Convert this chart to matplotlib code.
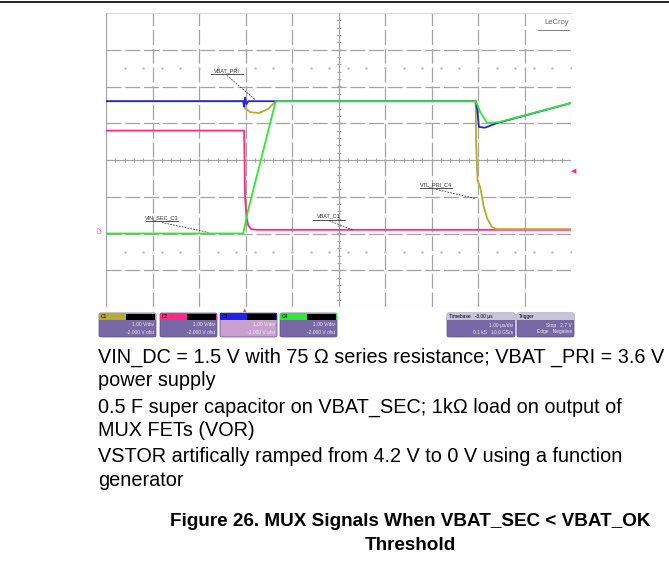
import numpy as np
import matplotlib.pyplot as plt
from matplotlib.patches import FancyBboxPatch, Rectangle

plt.rcParams['font.family'] = ['Liberation Sans', 'DejaVu Sans']

# scope traces, time in divisions (0..10), level in divisions (-4..4)
c1_t = [0, 2.95, 3.0, 3.1, 3.3, 3.5, 3.65, 7.95, 7.96, 7.99, 8.05, 8.12, 8.2, 8.3, 8.4, 10]
c1_v = [1.6, 1.6, 1.4, 1.3, 1.28, 1.4, 1.6, 1.6, 0.45, -0.55, -0.75, -1.25, -1.6, -1.82, -1.88, -1.88]

c2_t = [0, 2.97, 2.99, 3.02, 3.06, 3.12, 3.25, 10]
c2_v = [0.8, 0.8, -1.0, -1.55, -1.78, -1.88, -1.9, -1.9]

c3_t = [0, 2.95, 2.97, 2.99, 3.02, 3.06, 7.95, 7.98, 8.02, 8.15, 8.4, 10]
c3_v = [1.6, 1.6, 1.45, 1.7, 1.52, 1.6, 1.6, 1.4, 0.9, 0.88, 1.0, 1.55]

c4_t = [0, 2.95, 3.05, 3.65, 7.95, 8.05, 8.2, 8.45, 10]
c4_v = [-2.0, -2.0, -1.4, 1.6, 1.6, 1.3, 1.0, 1.03, 1.55]

trace_colors = ['#b5ad2e', '#ff2a84', '#2323e6', '#33e633']

W, H = 669, 581
fig = plt.figure(figsize=(W / 100, H / 100), dpi=100)

def fx(px):
    return px / W

def fy(py):
    return 1 - py / H

# top rule
fig.add_artist(plt.Line2D([0, 1], [fy(2), fy(2)], color='black', lw=1.2))

ax = fig.add_axes([fx(106), fy(307), fx(465), 294 / H])
ax.set_xlim(0, 10)
ax.set_ylim(-4, 4)
ax.axis('off')

grid_c = '#a4a4a4'
for gx in range(1, 10):
    if gx == 5:
        continue
    ax.plot([gx, gx], [-4, 4], color=grid_c, lw=0.9, dashes=(12, 3))
for gy in range(-3, 4):
    if gy == 0:
        continue
    ax.plot([0, 10], [gy, gy], color=grid_c, lw=0.9, dashes=(12, 3))
ax.plot([0, 10], [4, 4], color='#d8d8d8', lw=0.8)
ax.plot([0, 10], [-4, -4], color='#d8d8d8', lw=0.8)
ax.plot([0, 0], [-4, 4], color=grid_c, lw=0.9)
ax.plot([10, 10], [-4, 4], color='#d8d8d8', lw=0.8)
ax.plot([5, 5], [-4, 4], color=grid_c, lw=0.9)
ax.plot([0, 10], [0, 0], color=grid_c, lw=0.9)
sub = np.arange(0.2, 10, 0.2)
ax.plot(sub, np.zeros_like(sub), '|', color=grid_c, ms=3, mew=0.8)
suby = np.arange(-3.8, 4, 0.2)
ax.plot(np.full_like(suby, 5), suby, '_', color=grid_c, ms=3, mew=0.8)
for ry in (2.5, -2.5):
    ax.plot(sub[::2] + 0.2, np.full_like(sub[::2], ry), '.', color='#bbbbbb', ms=1.5)

for t, v, c in zip([c2_t, c1_t, c3_t, c4_t], [c2_v, c1_v, c3_v, c4_v],
                   [trace_colors[1], trace_colors[0], trace_colors[2], trace_colors[3]]):
    ax.plot(t, v, color=c, lw=1.3, solid_joinstyle='round')

# trace labels with dashed leaders
labels = [('VBAT_PRI', 2.6, 2.35, 3.2, 1.65),
          ('VIN_SEC_C3', 1.2, -1.65, 2.2, -1.97),
          ('VBAT_C1', 4.8, -1.6, 5.3, -1.9),
          ('VTL_PRI_C4', 7.1, -0.75, 7.95, -1.05)]
for txt, tx, ty, lx, ly in labels:
    ax.text(tx, ty, txt, fontsize=4, color='#333333', ha='center', va='bottom')
    ax.plot([tx - 0.35, tx + 0.35], [ty - 0.02, ty - 0.02], color='#333333', lw=0.6)
    ax.plot([tx, lx], [ty - 0.05, ly], color='#333333', lw=0.6, ls=(0, (2, 1.5)))

ax.text(9.95, 3.85, 'LeCroy', fontsize=5.5, color='#666666', ha='right', va='top')
ax.plot([9.3, 9.95], [3.55, 3.55], color='#666666', lw=0.6)

# markers at the edges
fig.text(fx(100), fy(230), 'C2', fontsize=4, color=trace_colors[1], ha='center', va='center', rotation=90)
fig.text(fx(574), fy(172), '\u25c0', fontsize=5, color=trace_colors[1], ha='center', va='center')
fig.text(fx(245), fy(310), '\u25b2', fontsize=4, color=trace_colors[1], ha='center', va='center')

# channel boxes under the screen
box_x = [99, 160, 220, 280]
head_txt = ['C1', 'C2', 'C3', 'C4']
body_txt = [('1.00 V/div', '-2.000 V ofst'), ('1.00 V/div', '-2.000 V ofst'),
            ('1.00 V/div', '-2.000 V ofst'), ('1.00 V/div', '-2.000 V ofst')]
body_cols = ['#7868a6', '#7868a6', '#c89fcf', '#7868a6']
for bx, hc, bc, ht, (b1, b2) in zip(box_x, trace_colors, body_cols, head_txt, body_txt):
    fig.add_artist(FancyBboxPatch((fx(bx), fy(337)), fx(57), 24 / H,
                                  boxstyle='round,pad=0,rounding_size=0.003',
                                  fc=bc, ec='#5a5090', lw=0.5))
    fig.add_artist(Rectangle((fx(bx), fy(320)), fx(57), 7 / H, fc=hc, ec='none'))
    fig.add_artist(Rectangle((fx(bx + 27), fy(319.5)), fx(29), 6 / H, fc='black', ec='none'))
    fig.text(fx(bx + 2), fy(316.5), ht, fontsize=3.5, color='black', va='center')
    fig.text(fx(bx + 55), fy(325), b1, fontsize=3.5, color='#eeeeee', ha='right', va='center')
    fig.text(fx(bx + 55), fy(332), b2, fontsize=3.5, color='#eeeeee', ha='right', va='center')

for bx, bw, ht, b1, b2 in [(447, 68, 'Timebase   -3.00 \u00b5s', '1.00 \u00b5s/div', '0.1 kS   10.0 GS/s'),
                           (517, 57, 'Trigger', 'Stop   2.7 V', 'Edge   Negative')]:
    fig.add_artist(FancyBboxPatch((fx(bx), fy(337)), fx(bw), 24 / H,
                                  boxstyle='round,pad=0,rounding_size=0.003',
                                  fc='#7868a6', ec='#5a5090', lw=0.5))
    fig.add_artist(Rectangle((fx(bx), fy(320)), fx(bw), 7 / H, fc='#c8c4d8', ec='none'))
    fig.text(fx(bx + 2), fy(316.5), ht, fontsize=3.5, color='black', va='center')
    fig.text(fx(bx + bw - 2), fy(325), b1, fontsize=3.5, color='#eeeeee', ha='right', va='center')
    fig.text(fx(bx + bw - 2), fy(332), b2, fontsize=3.5, color='#eeeeee', ha='right', va='center')

# notes and caption
notes = ['VIN_DC = 1.5 V with 75 \u03a9 series resistance; VBAT _PRI = 3.6 V',
         'power supply',
         '0.5 F super capacitor on VBAT_SEC; 1k\u03a9 load on output of',
         'MUX FETs (VOR)',
         'VSTOR artifically ramped from 4.2 V to 0 V using a function',
         'generator']
note_y = [357, 381, 407, 431, 457, 481]
for s, y in zip(notes, note_y):
    fig.text(fx(98), fy(y), s, fontsize=14.3, color='black', va='center')

fig.text(fx(410), fy(521), 'Figure 26. MUX Signals When VBAT_SEC < VBAT_OK',
         fontsize=13.6, fontweight='bold', ha='center', va='center')
fig.text(fx(410), fy(545), 'Threshold', fontsize=13.6, fontweight='bold', ha='center', va='center')

fig.savefig('out.png', dpi=100)
